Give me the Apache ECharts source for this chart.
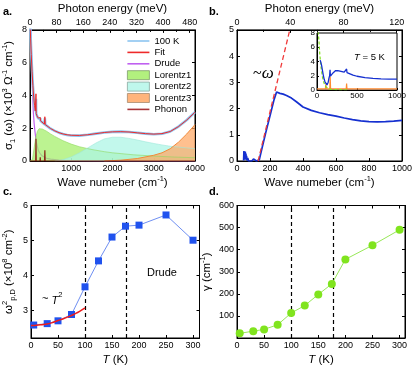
<!DOCTYPE html>
<html>
<head>
  <meta charset="UTF-8">
  <title>Optical conductivity panels</title>
  <script src="https://cdn.jsdelivr.net/npm/echarts@6/dist/echarts.min.js"></script>
  <style>
    html, body { margin: 0; padding: 0; background: #fff; }
  </style>
</head>
<body>
  <div id="main" style="width: 415px; height: 369px;"></div>

  <script>
    // panel a: 100 K conductivity and fit components, [wave number, sigma1]
    const aData100K = [[0,8.6],[15,7.6],[30,6.6],[50,5.5],[70,4.6],[90,3.9],[110,3.4],[130,3.05],[140,2.95],[145,3.8],[150,2.9],[170,2.75],[200,2.6],[230,2.5],[245,2.48],[250,2.6],[255,2.45],[300,2.35],[350,2.25],[360,2.6],[370,2.22],[400,2.15],[500,1.97],[600,1.84],[700,1.73],[800,1.65],[900,1.59],[1000,1.56],[1200,1.55],[1400,1.6],[1600,1.67],[1800,1.74],[2000,1.78],[2200,1.79],[2400,1.77],[2600,1.72],[2800,1.67],[3000,1.63],[3200,1.66],[3400,1.8],[3600,2.1],[3800,2.5],[4000,2.98]];
    const aFit = [[0,8.5],[15,7.5],[30,6.5],[50,5.45],[70,4.6],[90,3.9],[110,3.4],[130,3.05],[140,2.95],[145,4.1],[150,2.9],[170,2.75],[200,2.62],[230,2.5],[245,2.48],[250,2.65],[255,2.45],[300,2.35],[350,2.25],[360,2.7],[370,2.22],[400,2.15],[500,1.98],[600,1.84],[700,1.73],[800,1.65],[900,1.6],[1000,1.57],[1200,1.56],[1400,1.6],[1600,1.67],[1800,1.74],[2000,1.78],[2200,1.79],[2400,1.77],[2600,1.72],[2800,1.67],[3000,1.64],[3200,1.67],[3400,1.8],[3600,2.1],[3800,2.5],[4000,2.98]];
    const aDrude = [[0,9.5],[20,8.3],[40,6.2],[60,4.3],[80,3.0],[100,2.3],[120,1.8],[150,1.2],[200,0.66],[250,0.43],[300,0.3],[400,0.17],[500,0.11],[700,0.055],[1000,0.027],[2000,0.007],[4000,0.002]];
    const aLorentz1 = [[0,0],[60,0.1],[100,0.8],[140,1.45],[180,1.82],[220,1.97],[260,1.98],[300,1.95],[400,1.82],[500,1.65],[600,1.5],[800,1.24],[1000,1.03],[1200,0.87],[1500,0.7],[1800,0.57],[2000,0.5],[2500,0.38],[3000,0.3],[3500,0.24],[4000,0.2]];
    const aLorentz2 = [[600,0],[800,0.08],[1000,0.25],[1200,0.5],[1400,0.8],[1600,1.1],[1800,1.35],[2000,1.45],[2200,1.45],[2400,1.38],[2600,1.28],[2800,1.17],[3000,1.07],[3200,0.98],[3400,0.9],[3600,0.85],[3800,0.8],[4000,0.75]];
    const aLorentz3 = [[1800,0],[2200,0.05],[2600,0.15],[3000,0.35],[3200,0.5],[3400,0.75],[3600,1.15],[3800,1.65],[4000,2.22]];
    const aPhonon = [[0,0],[138,0],[145,1.35],[152,0],[242,0],[248,0.22],[254,0],[352,0],[360,0.65],[368,0],[4000,0]];

    // panel b: 5 K conductivity, ~omega guide and inset
    const bData5K = [[40,0.02],[42,0.38],[44,0.05],[46,0.33],[48,0.1],[50,0.36],[52,0.05],[54,0.28],[56,0.1],[58,0.2],[60,0.02],[65,0.12],[70,0],[80,0.04],[90,0],[100,0.08],[105,0.02],[110,0.07],[118,0],[125,0.03],[135,0.05],[150,0.45],[175,1.1],[200,1.72],[225,2.35],[240,2.63],[250,2.56],[260,2.58],[280,2.55],[300,2.5],[330,2.4],[360,2.26],[400,2.06],[450,1.93],[500,1.84],[550,1.77],[600,1.71],[650,1.64],[700,1.58],[750,1.53],[800,1.5],[850,1.49],[900,1.5],[950,1.52],[1000,1.55]];
    const bOmegaLine = [[128,0],[320,5]];
    const bInsetData = [[40,4.2],[50,3.8],[60,3.3],[70,2.6],[80,2.0],[90,1.5],[100,1.15],[110,0.9],[125,0.72],[140,1.1],[150,1.7],[158,2.0],[163,2.85],[168,1.95],[180,2.1],[200,2.4],[230,2.7],[260,2.72],[300,2.62],[340,2.52],[365,2.46],[370,2.95],[375,2.45],[400,2.3],[450,2.1],[500,1.93],[600,1.74],[700,1.62],[800,1.55],[900,1.52],[1000,1.54]];
    const bInsetDrude = [[15,8.2],[25,6.8],[35,5.0],[50,3.2],[70,1.7],[90,0.9],[110,0.45],[130,0.22],[160,0.1],[250,0.05],[400,0.03]];
    const bInsetPhonon = [[0,0.15],[105,0.15],[110,0.8],[115,0.15],[160,0.15],[165,1.9],[170,0.15],[365,0.15],[370,0.9],[375,0.15],[1000,0.15]];

    // panels c and d: Drude parameters vs temperature
    const temps = [5, 30, 50, 75, 100, 125, 150, 175, 200, 250, 300];
    const plasmaSq = [2.59, 2.63, 2.71, 2.89, 3.68, 4.42, 5.10, 5.41, 5.44, 5.73, 5.01];
    const gammaD = [21, 31, 39, 60, 113, 147, 197, 245, 356, 420, 490];
    const t2FitT = [0, 10, 20, 30, 40, 50, 60, 70, 80, 90, 100];
    const t2FitVals = [2.58, 2.585, 2.6, 2.62, 2.66, 2.72, 2.77, 2.83, 2.9, 2.98, 3.08];
    const markTemps = [100, 177];
    const cYTicks = [3, 4, 5, 6];

    const FONT = '"Liberation Sans", Arial, sans-serif';
    const rich = {
      sup: { fontSize: 7.5, lineHeight: 8, verticalAlign: 'top', fontFamily: FONT, color: '#000' },
      sub: { fontSize: 7.5, lineHeight: 8, verticalAlign: 'bottom', fontFamily: FONT, color: '#000' },
      i: { fontStyle: 'italic', fontSize: 11.5, lineHeight: 16, fontFamily: FONT, color: '#000' }
    };
    const nameStyle = { fontSize: 11.5, lineHeight: 16, color: '#000', fontFamily: FONT, rich };
    const plain = v => String(v);

    // axis with inside ticks, plot-frame look
    function axis(o) {
      return {
        type: 'value',
        gridIndex: o.grid,
        position: o.position,
        min: o.min,
        max: o.max,
        interval: o.interval,
        name: o.name,
        nameLocation: 'middle',
        nameGap: o.nameGap,
        nameTextStyle: nameStyle,
        axisLine: { show: true, onZero: false, lineStyle: { color: '#000', width: 1 } },
        axisTick: Object.assign({ show: true, inside: true, length: 3, lineStyle: { color: '#000', width: 1 } }, o.tick || {}),
        minorTick: { show: !!o.minor, splitNumber: 2, length: 2, lineStyle: { color: '#000', width: 1 } },
        splitLine: { show: false },
        axisLabel: Object.assign({ show: o.labels !== false, fontSize: 9, color: '#000', margin: 3, fontFamily: FONT, formatter: plain }, o.label || {})
      };
    }

    const LINE_ICON = 'path://M0,0M0,3.7h22v1.6H0zM22,9';

    const dashMarks = {
      silent: true,
      symbol: ['none', 'none'],
      label: { show: false },
      lineStyle: { color: '#000', type: [4, 3], width: 1.2 },
      data: markTemps.map(t => ({ xAxis: t }))
    };

    const option = {
      animation: false,
      backgroundColor: '#fff',
      grid: [
        { left: 30, top: 27, width: 165, height: 134, show: true, borderColor: '#000', borderWidth: 1, backgroundColor: 'transparent' },
        { left: 237, top: 27, width: 168.5, height: 134, show: true, borderColor: '#000', borderWidth: 1, backgroundColor: 'transparent' },
        { left: 317, top: 33, width: 80, height: 57, show: true, borderColor: '#000', borderWidth: 1, backgroundColor: '#fff' },
        { left: 29.5, top: 205.5, width: 170, height: 134.5, show: true, borderColor: '#000', borderWidth: 1, backgroundColor: 'transparent' },
        { left: 237, top: 205.5, width: 168, height: 134.5, show: true, borderColor: '#000', borderWidth: 1, backgroundColor: 'transparent' }
      ],
      xAxis: [
        axis({ grid: 0, position: 'bottom', min: 0, max: 4000, interval: 1000, name: 'Wave numeber (cm{sup|-1})', nameGap: 14,
               label: { formatter: v => (v === 0 ? '' : String(v)) } }),
        axis({ grid: 0, position: 'top', min: 0, max: 495.9, interval: 80, minor: true, name: 'Photon energy (meV)', nameGap: 12,
               label: { formatter: v => (v % 80 === 0 ? String(v) : '') } }),
        axis({ grid: 1, position: 'bottom', min: 0, max: 1000, interval: 200, name: 'Wave numeber (cm{sup|-1})', nameGap: 14 }),
        axis({ grid: 1, position: 'top', min: 0, max: 124, interval: 40, minor: true, name: 'Photon energy (meV)', nameGap: 12,
               label: { formatter: v => (v % 40 === 0 ? String(v) : '') } }),
        axis({ grid: 2, position: 'bottom', min: 0, max: 1000, interval: 500, tick: { length: 2 }, label: { fontSize: 8, margin: 2 } }),
        axis({ grid: 3, position: 'bottom', min: 0, max: 312, interval: 50, name: '{i|T} (K)', nameGap: 14,
               label: { formatter: v => (v % 50 === 0 ? String(v) : '') } }),
        axis({ grid: 3, position: 'top', min: 0, max: 312, interval: 50, labels: false }),
        axis({ grid: 4, position: 'bottom', min: 0, max: 310, interval: 50, name: '{i|T} (K)', nameGap: 14,
               label: { formatter: v => (v % 50 === 0 ? String(v) : '') } }),
        axis({ grid: 4, position: 'top', min: 0, max: 310, interval: 50, labels: false })
      ],
      yAxis: [
        axis({ grid: 0, position: 'left', min: 0, max: 8, interval: 2, name: 'σ{sub|1} (ω) (×10{sup|3} Ω{sup|-1} cm{sup|-1})', nameGap: 13 }),
        axis({ grid: 0, position: 'right', min: 0, max: 8, interval: 2, labels: false }),
        axis({ grid: 1, position: 'left', min: 0, max: 5, interval: 1 }),
        axis({ grid: 1, position: 'right', min: 0, max: 5, interval: 1, labels: false }),
        axis({ grid: 2, position: 'left', min: 0, max: 8, interval: 2, tick: { length: 2 }, label: { fontSize: 8, margin: 2 } }),
        axis({ grid: 3, position: 'left', min: 2.22, max: 6, name: 'ω{sup|2}{sub|p,D} (×10{sup|8} cm{sup|-2})', nameGap: 14,
               tick: { customValues: cYTicks }, label: { customValues: cYTicks } }),
        axis({ grid: 3, position: 'right', min: 2.22, max: 6, labels: false, tick: { customValues: cYTicks } }),
        axis({ grid: 4, position: 'left', min: 0, max: 600, interval: 100, name: 'γ (cm{sup|-1})', nameGap: 20,
               label: { formatter: v => (v === 0 ? '' : String(v)) } }),
        axis({ grid: 4, position: 'right', min: 0, max: 600, interval: 100, labels: false })
      ],
      legend: {
        orient: 'vertical',
        left: 127,
        top: 36,
        itemWidth: 22,
        itemHeight: 9,
        itemGap: 1.4,
        selectedMode: false,
        padding: 0,
        textStyle: { fontSize: 9.5, color: '#000', fontFamily: FONT },
        data: [
          { name: '100 K', icon: LINE_ICON, itemStyle: { color: '#8cc4f0', borderWidth: 0 } },
          { name: 'Fit', icon: LINE_ICON, itemStyle: { color: '#ee2a2a', borderWidth: 0 } },
          { name: 'Drude', icon: LINE_ICON, itemStyle: { color: '#c060f0', borderWidth: 0 } },
          { name: 'Lorentz1', icon: 'rect', itemStyle: { color: '#b2f07e', borderColor: '#7d9a6c', borderWidth: 0.8 } },
          { name: 'Lorentz2', icon: 'rect', itemStyle: { color: '#bff7ec', borderColor: '#8aa8a0', borderWidth: 0.8 } },
          { name: 'Lorentz3', icon: 'rect', itemStyle: { color: '#ffb47c', borderColor: '#a88a70', borderWidth: 0.8 } },
          { name: 'Phonon', icon: LINE_ICON, itemStyle: { color: '#a8353a', borderWidth: 0 } }
        ]
      },
      series: [
        { name: 'Drude', type: 'line', xAxisIndex: 0, yAxisIndex: 0, data: aDrude, symbol: 'none', z: 2,
          color: '#c060f0', lineStyle: { color: '#c060f0', width: 1.2 } },
        { name: 'Lorentz1', type: 'line', xAxisIndex: 0, yAxisIndex: 0, data: aLorentz1, symbol: 'none', z: 3,
          color: '#b2f07e', lineStyle: { color: '#8fd860', width: 0.6 }, areaStyle: { color: '#a2ee66', opacity: 0.72 } },
        { name: 'Lorentz2', type: 'line', xAxisIndex: 0, yAxisIndex: 0, data: aLorentz2, symbol: 'none', z: 3,
          color: '#bff7ec', lineStyle: { color: '#9ee8da', width: 0.6 }, areaStyle: { color: '#aef5e6', opacity: 0.75 } },
        { name: 'Lorentz3', type: 'line', xAxisIndex: 0, yAxisIndex: 0, data: aLorentz3, symbol: 'none', z: 3,
          color: '#ffb47c', lineStyle: { color: '#f08a3a', width: 1 }, areaStyle: { color: '#ffa864', opacity: 0.72 } },
        { name: 'Phonon', type: 'line', xAxisIndex: 0, yAxisIndex: 0, data: aPhonon, symbol: 'none', z: 4,
          color: '#a8353a', lineStyle: { color: '#8a2a1a', width: 1.2 } },
        { name: '100 K', type: 'line', xAxisIndex: 0, yAxisIndex: 0, data: aData100K, symbol: 'none', z: 5,
          color: '#8cc4f0', lineStyle: { color: '#8cc4f0', width: 2.6 } },
        { name: 'Fit', type: 'line', xAxisIndex: 0, yAxisIndex: 0, data: aFit, symbol: 'none', z: 6,
          color: '#ee2a2a', lineStyle: { color: '#ee2a2a', width: 1 } },

        { name: 'b 5 K', type: 'line', xAxisIndex: 2, yAxisIndex: 2, data: bData5K, symbol: 'none', z: 4,
          lineStyle: { color: '#1530d0', width: 1.7 } },
        { name: 'b omega', type: 'line', xAxisIndex: 2, yAxisIndex: 2, data: bOmegaLine, symbol: 'none', z: 5,
          lineStyle: { color: '#f03a3a', width: 1.3, type: [5, 3] } },
        { name: 'inset phonon', type: 'line', xAxisIndex: 4, yAxisIndex: 4, data: bInsetPhonon, symbol: 'none', z: 4,
          lineStyle: { color: '#ff8a30', width: 1.2 } },
        { name: 'inset drude', type: 'line', xAxisIndex: 4, yAxisIndex: 4, data: bInsetDrude, symbol: 'none', z: 4,
          lineStyle: { color: '#80e020', width: 1.2, type: [3, 2] } },
        { name: 'inset 5 K', type: 'line', xAxisIndex: 4, yAxisIndex: 4, data: bInsetData, symbol: 'none', z: 5,
          lineStyle: { color: '#1530d0', width: 1.3 } },

        { name: 'c plasma', type: 'line', xAxisIndex: 5, yAxisIndex: 5, data: temps.map((t, i) => [t, plasmaSq[i]]),
          symbol: 'rect', symbolSize: 7, z: 5, itemStyle: { color: '#2052ee' }, lineStyle: { color: '#6f8ff2', width: 1 },
          markLine: dashMarks },
        { name: 'c T2', type: 'line', xAxisIndex: 5, yAxisIndex: 5, data: t2FitT.map((t, i) => [t, t2FitVals[i]]),
          symbol: 'none', smooth: true, z: 6, lineStyle: { color: '#ee1c1c', width: 1.5 } },

        { name: 'd gamma', type: 'line', xAxisIndex: 7, yAxisIndex: 7, data: temps.map((t, i) => [t, gammaD[i]]),
          symbol: 'circle', symbolSize: 8, z: 5, itemStyle: { color: '#80e41e' }, lineStyle: { color: '#98e858', width: 1 },
          markLine: dashMarks }
      ],
      graphic: [
        { type: 'text', left: 3, top: 6, style: { text: 'a.', font: 'bold 11px "Liberation Sans", Arial', fill: '#000' } },
        { type: 'text', left: 209, top: 6, style: { text: 'b.', font: 'bold 11px "Liberation Sans", Arial', fill: '#000' } },
        { type: 'text', left: 3, top: 186, style: { text: 'c.', font: 'bold 11px "Liberation Sans", Arial', fill: '#000' } },
        { type: 'text', left: 209, top: 186, style: { text: 'd.', font: 'bold 11px "Liberation Sans", Arial', fill: '#000' } },
        { type: 'text', left: 253, top: 65, style: { text: '~{w|ω}', fontSize: 16, fontFamily: '"Liberation Serif", serif', fill: '#000',
          rich: { w: { fontSize: 17, fontStyle: 'italic', fontFamily: '"Liberation Serif", serif', fill: '#000' } } } },
        { type: 'text', left: 354, top: 52, style: { text: '{i|T} = 5 K', fontSize: 9.5, fontFamily: FONT, fill: '#000',
          rich: { i: { fontSize: 9.5, fontStyle: 'italic', fontFamily: FONT, fill: '#000' } } } },
        { type: 'text', left: 147, top: 267, style: { text: 'Drude', fontSize: 11, fontFamily: FONT, fill: '#000' } },
        { type: 'text', left: 42, top: 291, style: { text: '~ {i|T}{s|2}', fontSize: 11, fontFamily: FONT, fill: '#000',
          rich: { i: { fontSize: 11, fontStyle: 'italic', fontFamily: FONT, fill: '#000', lineHeight: 15, verticalAlign: 'bottom' },
                  s: { fontSize: 7.5, fontFamily: FONT, fill: '#000', lineHeight: 8, verticalAlign: 'top' } } } }
      ]
    };

    const chart = echarts.init(document.getElementById('main'), null, { renderer: 'canvas' });
    chart.setOption(option);
  </script>
</body>
</html>
